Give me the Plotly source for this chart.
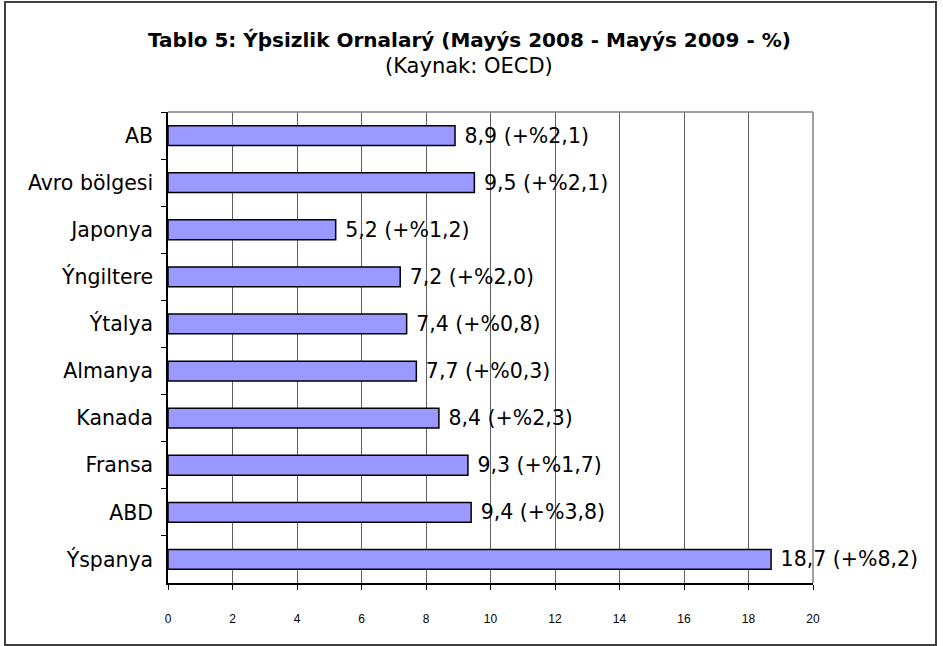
import plotly.graph_objects as go

categories = ["AB", "Avro bölgesi", "Japonya", "Ýngiltere", "Ýtalya",
              "Almanya", "Kanada", "Fransa", "ABD", "Ýspanya"]
rates = [8.9, 9.5, 5.2, 7.2, 7.4, 7.7, 8.4, 9.3, 9.4, 18.7]
changes = [2.1, 2.1, 1.2, 2.0, 0.8, 0.3, 2.3, 1.7, 3.8, 8.2]
x_ticks = [0, 2, 4, 6, 8, 10, 12, 14, 16, 18, 20]

labels = ["\u00a0" + f"{r:.1f}".replace(".", ",") + " (+%" + f"{c:.1f}".replace(".", ",") + ")"
          for r, c in zip(rates, changes)]

W, H = 943, 646
L, R, T, B = 168, 813, 112, 583
pw, ph = R - L, B - T

fig = go.Figure(go.Bar(
    y=categories, x=rates, orientation="h",
    marker=dict(color="#9999FF", line=dict(color="#000000", width=1.5)),
    text=labels, textposition="outside", cliponaxis=False,
    constraintext="none",
    textfont=dict(family="DejaVu Sans", size=20.5, color="#000000"),
    hoverinfo="skip",
))

def px_x(x):
    return (x - L) / pw

def px_y(y):
    return (B - y) / ph

fig.update_layout(
    width=W, height=H,
    margin=dict(l=L, r=W - R, t=T, b=H - B, pad=0),
    paper_bgcolor="white", plot_bgcolor="white",
    showlegend=False,
    bargap=0.58,
    xaxis=dict(range=[0, 20], tickvals=x_ticks, ticktext=[str(v) for v in x_ticks],
               showgrid=True, gridcolor="#606060", gridwidth=1,
               showline=True, linecolor="#000000", linewidth=1.5,
               ticks="outside", ticklen=5, tickcolor="#000000",
               ticklabelstandoff=19,
               tickfont=dict(family="Liberation Sans Narrow, Liberation Sans", size=12, color="#000000"),
               zeroline=False, fixedrange=True),
    yaxis=dict(autorange="reversed", type="category",
               tickson="boundaries", ticks="outside", ticklen=5, tickcolor="#000000",
               showline=True, linecolor="#000000", linewidth=1.5,
               showgrid=False, ticklabelstandoff=9,
               tickfont=dict(family="DejaVu Sans", size=20.5, color="#000000"),
               fixedrange=True),
    shapes=[
        dict(type="line", xref="paper", yref="paper", x0=0, x1=1, y0=1, y1=1,
             line=dict(color="#808080", width=1.5)),
        dict(type="line", xref="paper", yref="paper", x0=1, x1=1, y0=0, y1=1,
             line=dict(color="#808080", width=1.5)),
        dict(type="rect", xref="paper", yref="paper",
             x0=px_x(5), x1=px_x(936), y0=px_y(645), y1=px_y(2),
             line=dict(color="#404040", width=2)),
    ],
    annotations=[
        dict(text="<b>Tablo 5: Ýþsizlik Ornalarý (Mayýs 2008 - Mayýs 2009 - %)</b>",
             xref="paper", yref="paper", x=px_x(469), y=px_y(40),
             xanchor="center", yanchor="middle", showarrow=False,
             font=dict(family="DejaVu Sans", size=20, color="#000000")),
        dict(text="(Kaynak: OECD)",
             xref="paper", yref="paper", x=px_x(469), y=px_y(66),
             xanchor="center", yanchor="middle", showarrow=False,
             font=dict(family="DejaVu Sans", size=21, color="#000000")),
    ],
)

fig.write_html("out.html", config={"displayModeBar": False},
               post_script="document.body.style.margin='0';")
